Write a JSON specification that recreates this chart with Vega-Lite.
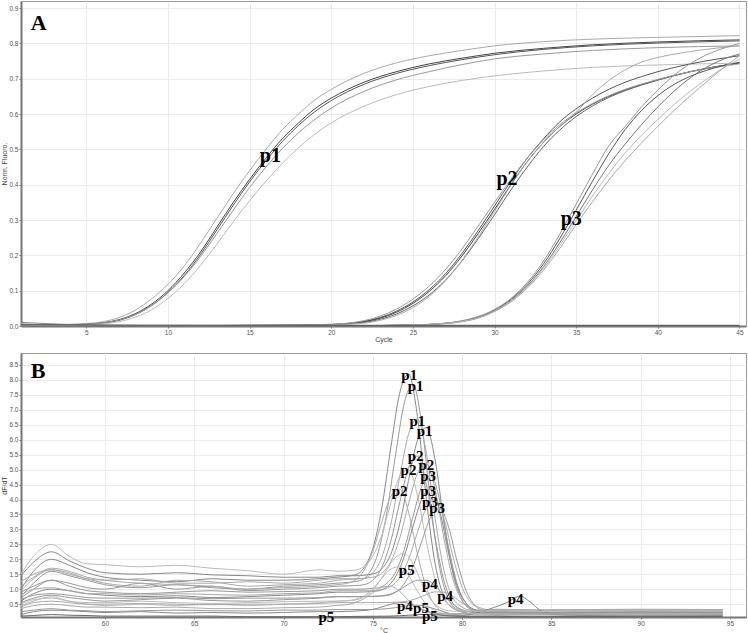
{
"$schema": "https://vega.github.io/schema/vega-lite/v6.json",
"padding": {"left": 0, "top": 0, "right": 3, "bottom": 0},
"background": "white",
"spacing": 9,
"config": {
  "view": {"stroke": "#999", "strokeWidth": 1},
  "axis": {"labelFontSize": 6.5, "labelColor": "#555", "labelFont": "Liberation Sans", "titleFont": "Liberation Sans", "titleFontSize": 7, "titleFontWeight": "normal", "titleColor": "#444", "tickColor": "#777", "tickSize": 2, "domainColor": "#777", "domainWidth": 2, "gridColor": "#ebebeb", "labelPadding": 1, "titlePadding": 1, "labelOverlap": false, "labelBound": false}
},
"resolve": {"scale": {"color": "independent"}},
"datasets": {
"amp": [
{"s":"1a","x":1,"y":0.006},{"s":"1a","x":3,"y":0.004},{"s":"1a","x":5,"y":0.007},{"s":"1a","x":6,"y":0.012},{"s":"1a","x":7,"y":0.024},{"s":"1a","x":8,"y":0.045},{"s":"1a","x":9,"y":0.077},{"s":"1a","x":10,"y":0.118},{"s":"1a","x":11,"y":0.17},{"s":"1a","x":12,"y":0.235},{"s":"1a","x":13,"y":0.305},{"s":"1a","x":14,"y":0.375},{"s":"1a","x":15,"y":0.44},{"s":"1a","x":16,"y":0.5},{"s":"1a","x":17,"y":0.555},{"s":"1a","x":18,"y":0.6},{"s":"1a","x":19,"y":0.64},{"s":"1a","x":20,"y":0.67},{"s":"1a","x":22,"y":0.715},{"s":"1a","x":24,"y":0.745},{"s":"1a","x":26,"y":0.765},{"s":"1a","x":28,"y":0.78},{"s":"1a","x":30,"y":0.793},{"s":"1a","x":33,"y":0.805},{"s":"1a","x":36,"y":0.812},{"s":"1a","x":40,"y":0.817},{"s":"1a","x":45,"y":0.822},
{"s":"1b","x":1,"y":0.004},{"s":"1b","x":3,"y":0.003},{"s":"1b","x":5,"y":0.005},{"s":"1b","x":6,"y":0.009},{"s":"1b","x":7,"y":0.018},{"s":"1b","x":8,"y":0.035},{"s":"1b","x":9,"y":0.062},{"s":"1b","x":10,"y":0.1},{"s":"1b","x":11,"y":0.15},{"s":"1b","x":12,"y":0.21},{"s":"1b","x":13,"y":0.28},{"s":"1b","x":14,"y":0.35},{"s":"1b","x":15,"y":0.415},{"s":"1b","x":16,"y":0.475},{"s":"1b","x":17,"y":0.53},{"s":"1b","x":18,"y":0.575},{"s":"1b","x":19,"y":0.615},{"s":"1b","x":20,"y":0.645},{"s":"1b","x":22,"y":0.69},{"s":"1b","x":24,"y":0.72},{"s":"1b","x":26,"y":0.742},{"s":"1b","x":28,"y":0.758},{"s":"1b","x":30,"y":0.772},{"s":"1b","x":33,"y":0.786},{"s":"1b","x":36,"y":0.796},{"s":"1b","x":40,"y":0.804},{"s":"1b","x":45,"y":0.81},
{"s":"1c","x":1,"y":0.004},{"s":"1c","x":3,"y":0.003},{"s":"1c","x":5,"y":0.004},{"s":"1c","x":6,"y":0.008},{"s":"1c","x":7,"y":0.016},{"s":"1c","x":8,"y":0.032},{"s":"1c","x":9,"y":0.058},{"s":"1c","x":10,"y":0.095},{"s":"1c","x":11,"y":0.143},{"s":"1c","x":12,"y":0.203},{"s":"1c","x":13,"y":0.272},{"s":"1c","x":14,"y":0.342},{"s":"1c","x":15,"y":0.408},{"s":"1c","x":16,"y":0.468},{"s":"1c","x":17,"y":0.522},{"s":"1c","x":18,"y":0.568},{"s":"1c","x":19,"y":0.607},{"s":"1c","x":20,"y":0.638},{"s":"1c","x":22,"y":0.684},{"s":"1c","x":24,"y":0.715},{"s":"1c","x":26,"y":0.737},{"s":"1c","x":28,"y":0.754},{"s":"1c","x":30,"y":0.768},{"s":"1c","x":33,"y":0.783},{"s":"1c","x":36,"y":0.793},{"s":"1c","x":40,"y":0.801},{"s":"1c","x":45,"y":0.807},
{"s":"1d","x":1,"y":0.005},{"s":"1d","x":3,"y":0.003},{"s":"1d","x":5,"y":0.005},{"s":"1d","x":6,"y":0.009},{"s":"1d","x":7,"y":0.017},{"s":"1d","x":8,"y":0.033},{"s":"1d","x":9,"y":0.058},{"s":"1d","x":10,"y":0.094},{"s":"1d","x":11,"y":0.14},{"s":"1d","x":12,"y":0.197},{"s":"1d","x":13,"y":0.262},{"s":"1d","x":14,"y":0.328},{"s":"1d","x":15,"y":0.392},{"s":"1d","x":16,"y":0.45},{"s":"1d","x":17,"y":0.502},{"s":"1d","x":18,"y":0.547},{"s":"1d","x":19,"y":0.585},{"s":"1d","x":20,"y":0.617},{"s":"1d","x":22,"y":0.664},{"s":"1d","x":24,"y":0.697},{"s":"1d","x":26,"y":0.72},{"s":"1d","x":28,"y":0.74},{"s":"1d","x":30,"y":0.756},{"s":"1d","x":33,"y":0.77},{"s":"1d","x":36,"y":0.78},{"s":"1d","x":40,"y":0.788},{"s":"1d","x":45,"y":0.793},
{"s":"1e","x":1,"y":0.003},{"s":"1e","x":3,"y":0.002},{"s":"1e","x":5,"y":0.003},{"s":"1e","x":6,"y":0.006},{"s":"1e","x":7,"y":0.012},{"s":"1e","x":8,"y":0.025},{"s":"1e","x":9,"y":0.046},{"s":"1e","x":10,"y":0.078},{"s":"1e","x":11,"y":0.12},{"s":"1e","x":12,"y":0.172},{"s":"1e","x":13,"y":0.232},{"s":"1e","x":14,"y":0.295},{"s":"1e","x":15,"y":0.355},{"s":"1e","x":16,"y":0.41},{"s":"1e","x":17,"y":0.46},{"s":"1e","x":18,"y":0.505},{"s":"1e","x":19,"y":0.543},{"s":"1e","x":20,"y":0.575},{"s":"1e","x":22,"y":0.622},{"s":"1e","x":24,"y":0.655},{"s":"1e","x":26,"y":0.678},{"s":"1e","x":28,"y":0.695},{"s":"1e","x":30,"y":0.708},{"s":"1e","x":33,"y":0.722},{"s":"1e","x":36,"y":0.732},{"s":"1e","x":40,"y":0.739},{"s":"1e","x":45,"y":0.744},
{"s":"2a","x":1,"y":0.002},{"s":"2a","x":10,"y":0.001},{"s":"2a","x":18,"y":0.002},{"s":"2a","x":20,"y":0.004},{"s":"2a","x":21,"y":0.007},{"s":"2a","x":22,"y":0.013},{"s":"2a","x":23,"y":0.024},{"s":"2a","x":24,"y":0.042},{"s":"2a","x":25,"y":0.068},{"s":"2a","x":26,"y":0.103},{"s":"2a","x":27,"y":0.148},{"s":"2a","x":28,"y":0.205},{"s":"2a","x":29,"y":0.27},{"s":"2a","x":30,"y":0.34},{"s":"2a","x":31,"y":0.41},{"s":"2a","x":32,"y":0.475},{"s":"2a","x":33,"y":0.53},{"s":"2a","x":34,"y":0.578},{"s":"2a","x":35,"y":0.615},{"s":"2a","x":36,"y":0.645},{"s":"2a","x":37,"y":0.67},{"s":"2a","x":38,"y":0.69},{"s":"2a","x":39,"y":0.706},{"s":"2a","x":40,"y":0.72},{"s":"2a","x":42,"y":0.742},{"s":"2a","x":45,"y":0.765},
{"s":"2b","x":1,"y":0.002},{"s":"2b","x":10,"y":0.001},{"s":"2b","x":18,"y":0.002},{"s":"2b","x":20,"y":0.004},{"s":"2b","x":21,"y":0.007},{"s":"2b","x":22,"y":0.012},{"s":"2b","x":23,"y":0.022},{"s":"2b","x":24,"y":0.039},{"s":"2b","x":25,"y":0.064},{"s":"2b","x":26,"y":0.098},{"s":"2b","x":27,"y":0.142},{"s":"2b","x":28,"y":0.198},{"s":"2b","x":29,"y":0.262},{"s":"2b","x":30,"y":0.33},{"s":"2b","x":31,"y":0.4},{"s":"2b","x":32,"y":0.465},{"s":"2b","x":33,"y":0.52},{"s":"2b","x":34,"y":0.565},{"s":"2b","x":35,"y":0.6},{"s":"2b","x":36,"y":0.628},{"s":"2b","x":37,"y":0.65},{"s":"2b","x":38,"y":0.668},{"s":"2b","x":39,"y":0.683},{"s":"2b","x":40,"y":0.697},{"s":"2b","x":42,"y":0.72},{"s":"2b","x":45,"y":0.745},
{"s":"2c","x":1,"y":0.001},{"s":"2c","x":10,"y":0.001},{"s":"2c","x":18,"y":0.002},{"s":"2c","x":20,"y":0.003},{"s":"2c","x":21,"y":0.006},{"s":"2c","x":22,"y":0.01},{"s":"2c","x":23,"y":0.019},{"s":"2c","x":24,"y":0.034},{"s":"2c","x":25,"y":0.057},{"s":"2c","x":26,"y":0.088},{"s":"2c","x":27,"y":0.13},{"s":"2c","x":28,"y":0.184},{"s":"2c","x":29,"y":0.247},{"s":"2c","x":30,"y":0.315},{"s":"2c","x":31,"y":0.385},{"s":"2c","x":32,"y":0.45},{"s":"2c","x":33,"y":0.508},{"s":"2c","x":34,"y":0.555},{"s":"2c","x":35,"y":0.593},{"s":"2c","x":36,"y":0.623},{"s":"2c","x":37,"y":0.647},{"s":"2c","x":38,"y":0.666},{"s":"2c","x":39,"y":0.682},{"s":"2c","x":40,"y":0.696},{"s":"2c","x":42,"y":0.72},{"s":"2c","x":45,"y":0.745},
{"s":"2d","x":1,"y":0.001},{"s":"2d","x":10,"y":0.001},{"s":"2d","x":18,"y":0.001},{"s":"2d","x":20,"y":0.003},{"s":"2d","x":21,"y":0.005},{"s":"2d","x":22,"y":0.008},{"s":"2d","x":23,"y":0.016},{"s":"2d","x":24,"y":0.03},{"s":"2d","x":25,"y":0.052},{"s":"2d","x":26,"y":0.084},{"s":"2d","x":27,"y":0.128},{"s":"2d","x":28,"y":0.185},{"s":"2d","x":29,"y":0.252},{"s":"2d","x":30,"y":0.325},{"s":"2d","x":31,"y":0.398},{"s":"2d","x":32,"y":0.465},{"s":"2d","x":33,"y":0.52},{"s":"2d","x":34,"y":0.565},{"s":"2d","x":35,"y":0.605},{"s":"2d","x":36,"y":0.655},{"s":"2d","x":37,"y":0.695},{"s":"2d","x":38,"y":0.725},{"s":"2d","x":39,"y":0.747},{"s":"2d","x":40,"y":0.76},{"s":"2d","x":42,"y":0.777},{"s":"2d","x":45,"y":0.793},
{"s":"2e","x":1,"y":0.002},{"s":"2e","x":10,"y":0.001},{"s":"2e","x":18,"y":0.003},{"s":"2e","x":20,"y":0.005},{"s":"2e","x":21,"y":0.008},{"s":"2e","x":22,"y":0.015},{"s":"2e","x":23,"y":0.028},{"s":"2e","x":24,"y":0.048},{"s":"2e","x":25,"y":0.076},{"s":"2e","x":26,"y":0.113},{"s":"2e","x":27,"y":0.16},{"s":"2e","x":28,"y":0.218},{"s":"2e","x":29,"y":0.283},{"s":"2e","x":30,"y":0.35},{"s":"2e","x":31,"y":0.415},{"s":"2e","x":32,"y":0.475},{"s":"2e","x":33,"y":0.527},{"s":"2e","x":34,"y":0.57},{"s":"2e","x":35,"y":0.603},{"s":"2e","x":36,"y":0.63},{"s":"2e","x":37,"y":0.652},{"s":"2e","x":38,"y":0.67},{"s":"2e","x":39,"y":0.685},{"s":"2e","x":40,"y":0.698},{"s":"2e","x":42,"y":0.72},{"s":"2e","x":45,"y":0.742},
{"s":"3a","x":1,"y":0.001},{"s":"3a","x":15,"y":0.0},{"s":"3a","x":22,"y":0.001},{"s":"3a","x":25,"y":0.003},{"s":"3a","x":27,"y":0.008},{"s":"3a","x":28,"y":0.014},{"s":"3a","x":29,"y":0.025},{"s":"3a","x":30,"y":0.045},{"s":"3a","x":31,"y":0.075},{"s":"3a","x":32,"y":0.118},{"s":"3a","x":33,"y":0.176},{"s":"3a","x":34,"y":0.248},{"s":"3a","x":35,"y":0.328},{"s":"3a","x":36,"y":0.41},{"s":"3a","x":37,"y":0.488},{"s":"3a","x":38,"y":0.556},{"s":"3a","x":39,"y":0.61},{"s":"3a","x":40,"y":0.652},{"s":"3a","x":41,"y":0.684},{"s":"3a","x":42,"y":0.707},{"s":"3a","x":43,"y":0.724},{"s":"3a","x":44,"y":0.737},{"s":"3a","x":45,"y":0.746},
{"s":"3b","x":1,"y":0.001},{"s":"3b","x":15,"y":0.0},{"s":"3b","x":22,"y":0.001},{"s":"3b","x":25,"y":0.003},{"s":"3b","x":27,"y":0.008},{"s":"3b","x":28,"y":0.015},{"s":"3b","x":29,"y":0.027},{"s":"3b","x":30,"y":0.047},{"s":"3b","x":31,"y":0.078},{"s":"3b","x":32,"y":0.123},{"s":"3b","x":33,"y":0.184},{"s":"3b","x":34,"y":0.26},{"s":"3b","x":35,"y":0.345},{"s":"3b","x":36,"y":0.43},{"s":"3b","x":37,"y":0.51},{"s":"3b","x":38,"y":0.565},{"s":"3b","x":39,"y":0.62},{"s":"3b","x":40,"y":0.668},{"s":"3b","x":41,"y":0.71},{"s":"3b","x":42,"y":0.743},{"s":"3b","x":43,"y":0.768},{"s":"3b","x":44,"y":0.786},{"s":"3b","x":45,"y":0.8},
{"s":"3c","x":1,"y":0.001},{"s":"3c","x":15,"y":0.0},{"s":"3c","x":22,"y":0.001},{"s":"3c","x":25,"y":0.003},{"s":"3c","x":27,"y":0.007},{"s":"3c","x":28,"y":0.013},{"s":"3c","x":29,"y":0.024},{"s":"3c","x":30,"y":0.043},{"s":"3c","x":31,"y":0.072},{"s":"3c","x":32,"y":0.113},{"s":"3c","x":33,"y":0.168},{"s":"3c","x":34,"y":0.236},{"s":"3c","x":35,"y":0.31},{"s":"3c","x":36,"y":0.385},{"s":"3c","x":37,"y":0.455},{"s":"3c","x":38,"y":0.515},{"s":"3c","x":39,"y":0.57},{"s":"3c","x":40,"y":0.62},{"s":"3c","x":41,"y":0.665},{"s":"3c","x":42,"y":0.703},{"s":"3c","x":43,"y":0.733},{"s":"3c","x":44,"y":0.755},{"s":"3c","x":45,"y":0.77},
{"s":"3d","x":1,"y":0.001},{"s":"3d","x":15,"y":0.0},{"s":"3d","x":22,"y":0.001},{"s":"3d","x":25,"y":0.003},{"s":"3d","x":27,"y":0.007},{"s":"3d","x":28,"y":0.013},{"s":"3d","x":29,"y":0.023},{"s":"3d","x":30,"y":0.042},{"s":"3d","x":31,"y":0.07},{"s":"3d","x":32,"y":0.11},{"s":"3d","x":33,"y":0.163},{"s":"3d","x":34,"y":0.228},{"s":"3d","x":35,"y":0.298},{"s":"3d","x":36,"y":0.368},{"s":"3d","x":37,"y":0.432},{"s":"3d","x":38,"y":0.49},{"s":"3d","x":39,"y":0.54},{"s":"3d","x":40,"y":0.585},{"s":"3d","x":41,"y":0.627},{"s":"3d","x":42,"y":0.665},{"s":"3d","x":43,"y":0.699},{"s":"3d","x":44,"y":0.73},{"s":"3d","x":45,"y":0.755},
{"s":"3e","x":1,"y":0.001},{"s":"3e","x":15,"y":0.0},{"s":"3e","x":22,"y":0.001},{"s":"3e","x":25,"y":0.003},{"s":"3e","x":27,"y":0.007},{"s":"3e","x":28,"y":0.012},{"s":"3e","x":29,"y":0.022},{"s":"3e","x":30,"y":0.041},{"s":"3e","x":31,"y":0.068},{"s":"3e","x":32,"y":0.107},{"s":"3e","x":33,"y":0.158},{"s":"3e","x":34,"y":0.22},{"s":"3e","x":35,"y":0.287},{"s":"3e","x":36,"y":0.352},{"s":"3e","x":37,"y":0.413},{"s":"3e","x":38,"y":0.468},{"s":"3e","x":39,"y":0.518},{"s":"3e","x":40,"y":0.565},{"s":"3e","x":41,"y":0.61},{"s":"3e","x":42,"y":0.652},{"s":"3e","x":43,"y":0.692},{"s":"3e","x":44,"y":0.73},{"s":"3e","x":45,"y":0.765},
{"s":"n1","x":1,"y":0.01},{"s":"n1","x":2,"y":0.008},{"s":"n1","x":4,"y":0.004},{"s":"n1","x":6,"y":0.002},{"s":"n1","x":9,"y":0.001},{"s":"n1","x":45,"y":0.001},
{"s":"n2","x":1,"y":0.003},{"s":"n2","x":20,"y":0.002},{"s":"n2","x":45,"y":0.002}
],
"ampLab": [
{"t":"A","x":2.09,"y":0.858},
{"t":"p1","x":16.27,"y":0.48},
{"t":"p2","x":30.76,"y":0.416},
{"t":"p3","x":34.7,"y":0.303}
],
"melt": [
{"m":"m1","t":55.3,"v":1.0},{"m":"m1","t":56,"v":1.6},{"m":"m1","t":57,"v":2.0},{"m":"m1","t":58,"v":1.8},{"m":"m1","t":59,"v":1.55},{"m":"m1","t":60,"v":1.4},{"m":"m1","t":62,"v":1.3},{"m":"m1","t":64,"v":1.25},{"m":"m1","t":66,"v":1.35},{"m":"m1","t":68,"v":1.3},{"m":"m1","t":70,"v":1.3},{"m":"m1","t":72,"v":1.35},{"m":"m1","t":73,"v":1.4},{"m":"m1","t":74,"v":1.48},{"m":"m1","t":74.5,"v":1.71},{"m":"m1","t":75,"v":2.36},{"m":"m1","t":75.5,"v":3.7},{"m":"m1","t":76,"v":5.7},{"m":"m1","t":76.5,"v":7.54},{"m":"m1","t":77,"v":8.2},{"m":"m1","t":77.5,"v":6.78},{"m":"m1","t":78,"v":4.01},{"m":"m1","t":78.5,"v":1.82},{"m":"m1","t":79,"v":0.73},{"m":"m1","t":79.5,"v":0.36},{"m":"m1","t":80,"v":0.26},{"m":"m1","t":81,"v":0.25},{"m":"m1","t":82,"v":0.24},{"m":"m1","t":84,"v":0.26},{"m":"m1","t":87,"v":0.24},{"m":"m1","t":90,"v":0.25},{"m":"m1","t":94.6,"v":0.24},
{"m":"m2","t":55.3,"v":0.75},{"m":"m2","t":56,"v":1.2},{"m":"m2","t":57,"v":1.6},{"m":"m2","t":58,"v":1.45},{"m":"m2","t":59,"v":1.3},{"m":"m2","t":60,"v":1.15},{"m":"m2","t":62,"v":1.05},{"m":"m2","t":64,"v":1.15},{"m":"m2","t":66,"v":1.05},{"m":"m2","t":68,"v":1.0},{"m":"m2","t":70,"v":1.1},{"m":"m2","t":72,"v":1.15},{"m":"m2","t":73,"v":1.2},{"m":"m2","t":74.25,"v":1.28},{"m":"m2","t":74.75,"v":1.5},{"m":"m2","t":75.25,"v":2.13},{"m":"m2","t":75.75,"v":3.44},{"m":"m2","t":76.25,"v":5.39},{"m":"m2","t":76.75,"v":7.19},{"m":"m2","t":77.25,"v":7.85},{"m":"m2","t":77.75,"v":6.48},{"m":"m2","t":78.25,"v":3.81},{"m":"m2","t":78.75,"v":1.69},{"m":"m2","t":79.25,"v":0.65},{"m":"m2","t":79.75,"v":0.31},{"m":"m2","t":80.25,"v":0.2},{"m":"m2","t":81,"v":0.2},{"m":"m2","t":82,"v":0.21},{"m":"m2","t":84,"v":0.19},{"m":"m2","t":87,"v":0.2},{"m":"m2","t":90,"v":0.21},{"m":"m2","t":94.6,"v":0.2},
{"m":"m3","t":55.3,"v":1.25},{"m":"m3","t":56,"v":1.5},{"m":"m3","t":57,"v":1.65},{"m":"m3","t":58,"v":1.5},{"m":"m3","t":59,"v":1.35},{"m":"m3","t":60,"v":1.2},{"m":"m3","t":62,"v":1.1},{"m":"m3","t":64,"v":1.3},{"m":"m3","t":66,"v":1.25},{"m":"m3","t":68,"v":1.1},{"m":"m3","t":70,"v":1.15},{"m":"m3","t":72,"v":1.2},{"m":"m3","t":73,"v":1.3},{"m":"m3","t":74.5,"v":1.36},{"m":"m3","t":75,"v":1.55},{"m":"m3","t":75.5,"v":2.06},{"m":"m3","t":76,"v":3.14},{"m":"m3","t":76.5,"v":4.73},{"m":"m3","t":77,"v":6.18},{"m":"m3","t":77.5,"v":6.7},{"m":"m3","t":78,"v":5.55},{"m":"m3","t":78.5,"v":3.34},{"m":"m3","t":79,"v":1.58},{"m":"m3","t":79.5,"v":0.7},{"m":"m3","t":80,"v":0.4},{"m":"m3","t":80.5,"v":0.3},{"m":"m3","t":82,"v":0.31},{"m":"m3","t":84,"v":0.29},{"m":"m3","t":87,"v":0.3},{"m":"m3","t":90,"v":0.31},{"m":"m3","t":94.6,"v":0.3},
{"m":"m4","t":55.3,"v":1.45},{"m":"m4","t":56,"v":1.9},{"m":"m4","t":57,"v":2.25},{"m":"m4","t":58,"v":1.95},{"m":"m4","t":59,"v":1.7},{"m":"m4","t":60,"v":1.55},{"m":"m4","t":62,"v":1.5},{"m":"m4","t":64,"v":1.55},{"m":"m4","t":66,"v":1.48},{"m":"m4","t":68,"v":1.45},{"m":"m4","t":70,"v":1.4},{"m":"m4","t":72,"v":1.4},{"m":"m4","t":73,"v":1.45},{"m":"m4","t":74,"v":1.45},{"m":"m4","t":75,"v":1.51},{"m":"m4","t":75.5,"v":1.68},{"m":"m4","t":76,"v":2.16},{"m":"m4","t":76.5,"v":3.16},{"m":"m4","t":77,"v":4.64},{"m":"m4","t":77.5,"v":5.97},{"m":"m4","t":78,"v":6.4},{"m":"m4","t":78.5,"v":5.29},{"m":"m4","t":79,"v":3.18},{"m":"m4","t":79.5,"v":1.5},{"m":"m4","t":80,"v":0.63},{"m":"m4","t":80.5,"v":0.32},{"m":"m4","t":81,"v":0.22},{"m":"m4","t":82,"v":0.23},{"m":"m4","t":84,"v":0.21},{"m":"m4","t":87,"v":0.22},{"m":"m4","t":90,"v":0.23},{"m":"m4","t":94.6,"v":0.22},
{"m":"m5","t":55.3,"v":0.7},{"m":"m5","t":56,"v":1.0},{"m":"m5","t":57,"v":1.3},{"m":"m5","t":58,"v":1.2},{"m":"m5","t":59,"v":1.05},{"m":"m5","t":60,"v":1.0},{"m":"m5","t":62,"v":1.2},{"m":"m5","t":64,"v":1.0},{"m":"m5","t":66,"v":1.1},{"m":"m5","t":68,"v":0.95},{"m":"m5","t":70,"v":1.0},{"m":"m5","t":72,"v":1.05},{"m":"m5","t":73,"v":1.1},{"m":"m5","t":74,"v":1.12},{"m":"m5","t":74.5,"v":1.15},{"m":"m5","t":75,"v":1.3},{"m":"m5","t":75.5,"v":1.72},{"m":"m5","t":76,"v":2.59},{"m":"m5","t":76.5,"v":3.88},{"m":"m5","t":77,"v":5.05},{"m":"m5","t":77.5,"v":5.45},{"m":"m5","t":78,"v":4.5},{"m":"m5","t":78.5,"v":2.69},{"m":"m5","t":79,"v":1.25},{"m":"m5","t":79.5,"v":0.52},{"m":"m5","t":80,"v":0.27},{"m":"m5","t":80.5,"v":0.18},{"m":"m5","t":82,"v":0.17},{"m":"m5","t":84,"v":0.19},{"m":"m5","t":87,"v":0.18},{"m":"m5","t":90,"v":0.17},{"m":"m5","t":94.6,"v":0.18},
{"m":"m6","t":55.3,"v":0.95},{"m":"m6","t":56,"v":1.35},{"m":"m6","t":57,"v":1.65},{"m":"m6","t":58,"v":1.55},{"m":"m6","t":59,"v":1.35},{"m":"m6","t":60,"v":1.3},{"m":"m6","t":62,"v":1.35},{"m":"m6","t":64,"v":1.2},{"m":"m6","t":66,"v":1.2},{"m":"m6","t":68,"v":1.25},{"m":"m6","t":70,"v":1.2},{"m":"m6","t":72,"v":1.3},{"m":"m6","t":73,"v":1.35},{"m":"m6","t":74,"v":1.35},{"m":"m6","t":75,"v":1.4},{"m":"m6","t":75.5,"v":1.53},{"m":"m6","t":76,"v":1.91},{"m":"m6","t":76.5,"v":2.69},{"m":"m6","t":77,"v":3.85},{"m":"m6","t":77.5,"v":4.87},{"m":"m6","t":78,"v":5.2},{"m":"m6","t":78.5,"v":4.31},{"m":"m6","t":79,"v":2.65},{"m":"m6","t":79.5,"v":1.31},{"m":"m6","t":80,"v":0.62},{"m":"m6","t":80.5,"v":0.36},{"m":"m6","t":81,"v":0.28},{"m":"m6","t":82,"v":0.29},{"m":"m6","t":84,"v":0.27},{"m":"m6","t":87,"v":0.28},{"m":"m6","t":90,"v":0.29},{"m":"m6","t":94.6,"v":0.28},
{"m":"m7","t":55.3,"v":1.5},{"m":"m7","t":56,"v":2.1},{"m":"m7","t":57,"v":2.5},{"m":"m7","t":58,"v":2.1},{"m":"m7","t":59,"v":1.85},{"m":"m7","t":60,"v":1.82},{"m":"m7","t":62,"v":1.75},{"m":"m7","t":64,"v":1.8},{"m":"m7","t":66,"v":1.7},{"m":"m7","t":68,"v":1.62},{"m":"m7","t":70,"v":1.5},{"m":"m7","t":72,"v":1.65},{"m":"m7","t":73,"v":1.6},{"m":"m7","t":74,"v":1.64},{"m":"m7","t":74.5,"v":1.76},{"m":"m7","t":75,"v":2.1},{"m":"m7","t":75.5,"v":2.81},{"m":"m7","t":76,"v":3.86},{"m":"m7","t":76.5,"v":4.76},{"m":"m7","t":77,"v":5.0},{"m":"m7","t":77.5,"v":4.15},{"m":"m7","t":78,"v":2.59},{"m":"m7","t":78.5,"v":1.33},{"m":"m7","t":79,"v":0.66},{"m":"m7","t":79.5,"v":0.4},{"m":"m7","t":80,"v":0.3},{"m":"m7","t":81,"v":0.3},{"m":"m7","t":82,"v":0.32},{"m":"m7","t":84,"v":0.3},{"m":"m7","t":87,"v":0.31},{"m":"m7","t":90,"v":0.3},{"m":"m7","t":94.6,"v":0.31},
{"m":"m8","t":55.3,"v":1.1},{"m":"m8","t":56,"v":1.4},{"m":"m8","t":57,"v":1.7},{"m":"m8","t":58,"v":1.6},{"m":"m8","t":59,"v":1.4},{"m":"m8","t":60,"v":1.3},{"m":"m8","t":62,"v":1.2},{"m":"m8","t":64,"v":1.15},{"m":"m8","t":66,"v":1.1},{"m":"m8","t":68,"v":1.0},{"m":"m8","t":70,"v":1.05},{"m":"m8","t":72,"v":1.1},{"m":"m8","t":73,"v":1.15},{"m":"m8","t":73.5,"v":1.19},{"m":"m8","t":74,"v":1.3},{"m":"m8","t":74.5,"v":1.62},{"m":"m8","t":75,"v":2.27},{"m":"m8","t":75.5,"v":3.24},{"m":"m8","t":76,"v":4.09},{"m":"m8","t":76.5,"v":4.35},{"m":"m8","t":77,"v":3.59},{"m":"m8","t":77.5,"v":2.18},{"m":"m8","t":78,"v":1.05},{"m":"m8","t":78.5,"v":0.45},{"m":"m8","t":79,"v":0.23},{"m":"m8","t":79.5,"v":0.15},{"m":"m8","t":80.5,"v":0.15},{"m":"m8","t":82,"v":0.14},{"m":"m8","t":84,"v":0.16},{"m":"m8","t":87,"v":0.15},{"m":"m8","t":90,"v":0.14},{"m":"m8","t":94.6,"v":0.15},
{"m":"m9","t":55.3,"v":0.9},{"m":"m9","t":56,"v":1.1},{"m":"m9","t":57,"v":1.3},{"m":"m9","t":58,"v":1.1},{"m":"m9","t":59,"v":0.95},{"m":"m9","t":60,"v":0.9},{"m":"m9","t":62,"v":0.85},{"m":"m9","t":64,"v":0.9},{"m":"m9","t":66,"v":0.95},{"m":"m9","t":68,"v":0.9},{"m":"m9","t":70,"v":0.92},{"m":"m9","t":72,"v":0.95},{"m":"m9","t":73,"v":1.0},{"m":"m9","t":74,"v":1.0},{"m":"m9","t":75.25,"v":1.04},{"m":"m9","t":75.75,"v":1.18},{"m":"m9","t":76.25,"v":1.54},{"m":"m9","t":76.75,"v":2.3},{"m":"m9","t":77.25,"v":3.43},{"m":"m9","t":77.75,"v":4.45},{"m":"m9","t":78.25,"v":4.8},{"m":"m9","t":78.75,"v":3.97},{"m":"m9","t":79.25,"v":2.39},{"m":"m9","t":79.75,"v":1.13},{"m":"m9","t":80.25,"v":0.5},{"m":"m9","t":80.75,"v":0.27},{"m":"m9","t":81.25,"v":0.2},{"m":"m9","t":82,"v":0.21},{"m":"m9","t":84,"v":0.19},{"m":"m9","t":87,"v":0.2},{"m":"m9","t":90,"v":0.21},{"m":"m9","t":94.6,"v":0.2},
{"m":"m10","t":55.3,"v":0.6},{"m":"m10","t":56,"v":0.85},{"m":"m10","t":57,"v":1.0},{"m":"m10","t":58,"v":0.95},{"m":"m10","t":59,"v":0.85},{"m":"m10","t":60,"v":0.8},{"m":"m10","t":62,"v":0.75},{"m":"m10","t":64,"v":0.78},{"m":"m10","t":66,"v":0.72},{"m":"m10","t":68,"v":0.75},{"m":"m10","t":70,"v":0.8},{"m":"m10","t":72,"v":0.85},{"m":"m10","t":73,"v":0.9},{"m":"m10","t":74,"v":0.9},{"m":"m10","t":75.25,"v":0.94},{"m":"m10","t":75.75,"v":1.06},{"m":"m10","t":76.25,"v":1.39},{"m":"m10","t":76.75,"v":2.07},{"m":"m10","t":77.25,"v":3.09},{"m":"m10","t":77.75,"v":4.02},{"m":"m10","t":78.25,"v":4.35},{"m":"m10","t":78.75,"v":3.61},{"m":"m10","t":79.25,"v":2.19},{"m":"m10","t":79.75,"v":1.07},{"m":"m10","t":80.25,"v":0.51},{"m":"m10","t":80.75,"v":0.31},{"m":"m10","t":81.25,"v":0.25},{"m":"m10","t":82,"v":0.26},{"m":"m10","t":84,"v":0.24},{"m":"m10","t":87,"v":0.25},{"m":"m10","t":90,"v":0.26},{"m":"m10","t":94.6,"v":0.25},
{"m":"m11","t":55.3,"v":0.8},{"m":"m11","t":56,"v":1.0},{"m":"m11","t":57,"v":1.05},{"m":"m11","t":58,"v":0.95},{"m":"m11","t":59,"v":0.85},{"m":"m11","t":60,"v":0.85},{"m":"m11","t":62,"v":0.8},{"m":"m11","t":64,"v":0.85},{"m":"m11","t":66,"v":0.82},{"m":"m11","t":68,"v":0.8},{"m":"m11","t":70,"v":0.85},{"m":"m11","t":72,"v":0.88},{"m":"m11","t":73,"v":0.95},{"m":"m11","t":74,"v":0.95},{"m":"m11","t":75,"v":0.95},{"m":"m11","t":75.5,"v":0.99},{"m":"m11","t":76,"v":1.09},{"m":"m11","t":76.5,"v":1.38},{"m":"m11","t":77,"v":1.99},{"m":"m11","t":77.5,"v":2.9},{"m":"m11","t":78,"v":3.72},{"m":"m11","t":78.5,"v":4.0},{"m":"m11","t":79,"v":3.34},{"m":"m11","t":79.5,"v":2.07},{"m":"m11","t":80,"v":1.07},{"m":"m11","t":80.5,"v":0.55},{"m":"m11","t":81,"v":0.38},{"m":"m11","t":81.5,"v":0.32},{"m":"m11","t":82,"v":0.33},{"m":"m11","t":84,"v":0.31},{"m":"m11","t":87,"v":0.32},{"m":"m11","t":90,"v":0.33},{"m":"m11","t":94.6,"v":0.32},
{"m":"m12","t":55.3,"v":0.55},{"m":"m12","t":56,"v":0.7},{"m":"m12","t":57,"v":0.8},{"m":"m12","t":58,"v":0.72},{"m":"m12","t":59,"v":0.65},{"m":"m12","t":60,"v":0.6},{"m":"m12","t":62,"v":0.65},{"m":"m12","t":64,"v":0.7},{"m":"m12","t":66,"v":0.62},{"m":"m12","t":68,"v":0.6},{"m":"m12","t":70,"v":0.65},{"m":"m12","t":72,"v":0.7},{"m":"m12","t":73,"v":0.75},{"m":"m12","t":74,"v":0.75},{"m":"m12","t":75,"v":0.76},{"m":"m12","t":75.75,"v":0.78},{"m":"m12","t":76.25,"v":0.89},{"m":"m12","t":76.75,"v":1.17},{"m":"m12","t":77.25,"v":1.75},{"m":"m12","t":77.75,"v":2.62},{"m":"m12","t":78.25,"v":3.42},{"m":"m12","t":78.75,"v":3.7},{"m":"m12","t":79.25,"v":3.07},{"m":"m12","t":79.75,"v":1.87},{"m":"m12","t":80.25,"v":0.91},{"m":"m12","t":80.75,"v":0.44},{"m":"m12","t":81.25,"v":0.27},{"m":"m12","t":81.75,"v":0.22},{"m":"m12","t":84,"v":0.23},{"m":"m12","t":87,"v":0.22},{"m":"m12","t":90,"v":0.21},{"m":"m12","t":94.6,"v":0.22},
{"m":"m13","t":55.3,"v":0.45},{"m":"m13","t":56,"v":0.6},{"m":"m13","t":57,"v":0.75},{"m":"m13","t":58,"v":0.6},{"m":"m13","t":59,"v":0.5},{"m":"m13","t":60,"v":0.45},{"m":"m13","t":62,"v":0.5},{"m":"m13","t":64,"v":0.45},{"m":"m13","t":66,"v":0.5},{"m":"m13","t":68,"v":0.45},{"m":"m13","t":70,"v":0.5},{"m":"m13","t":72,"v":0.55},{"m":"m13","t":73,"v":0.6},{"m":"m13","t":73.5,"v":0.61},{"m":"m13","t":74,"v":0.66},{"m":"m13","t":74.5,"v":0.77},{"m":"m13","t":75,"v":1.01},{"m":"m13","t":75.5,"v":1.36},{"m":"m13","t":76,"v":1.67},{"m":"m13","t":76.5,"v":1.75},{"m":"m13","t":77,"v":1.46},{"m":"m13","t":77.5,"v":0.93},{"m":"m13","t":78,"v":0.5},{"m":"m13","t":78.5,"v":0.28},{"m":"m13","t":79,"v":0.18},{"m":"m13","t":79.5,"v":0.15},{"m":"m13","t":80.5,"v":0.15},{"m":"m13","t":82,"v":0.16},{"m":"m13","t":84,"v":0.14},{"m":"m13","t":87,"v":0.15},{"m":"m13","t":90,"v":0.16},{"m":"m13","t":94.6,"v":0.15},
{"m":"m14","t":55.3,"v":0.65},{"m":"m14","t":56,"v":0.8},{"m":"m14","t":57,"v":0.85},{"m":"m14","t":58,"v":0.8},{"m":"m14","t":59,"v":0.72},{"m":"m14","t":60,"v":0.7},{"m":"m14","t":62,"v":0.7},{"m":"m14","t":64,"v":0.72},{"m":"m14","t":66,"v":0.68},{"m":"m14","t":68,"v":0.7},{"m":"m14","t":70,"v":0.7},{"m":"m14","t":72,"v":0.72},{"m":"m14","t":73,"v":0.75},{"m":"m14","t":74,"v":0.75},{"m":"m14","t":75,"v":0.76},{"m":"m14","t":75.5,"v":0.78},{"m":"m14","t":76,"v":0.84},{"m":"m14","t":76.5,"v":0.97},{"m":"m14","t":77,"v":1.17},{"m":"m14","t":77.5,"v":1.3},{"m":"m14","t":78,"v":1.3},{"m":"m14","t":78.5,"v":1.1},{"m":"m14","t":79,"v":0.77},{"m":"m14","t":79.5,"v":0.49},{"m":"m14","t":80,"v":0.31},{"m":"m14","t":80.5,"v":0.23},{"m":"m14","t":81,"v":0.2},{"m":"m14","t":82,"v":0.21},{"m":"m14","t":84,"v":0.19},{"m":"m14","t":87,"v":0.2},{"m":"m14","t":90,"v":0.21},{"m":"m14","t":94.6,"v":0.2},
{"m":"m15","t":55.3,"v":0.4},{"m":"m15","t":56,"v":0.55},{"m":"m15","t":57,"v":0.6},{"m":"m15","t":58,"v":0.55},{"m":"m15","t":59,"v":0.5},{"m":"m15","t":60,"v":0.5},{"m":"m15","t":62,"v":0.52},{"m":"m15","t":64,"v":0.5},{"m":"m15","t":66,"v":0.48},{"m":"m15","t":68,"v":0.5},{"m":"m15","t":70,"v":0.5},{"m":"m15","t":72,"v":0.52},{"m":"m15","t":73,"v":0.55},{"m":"m15","t":74,"v":0.55},{"m":"m15","t":75,"v":0.55},{"m":"m15","t":76,"v":0.56},{"m":"m15","t":76.5,"v":0.57},{"m":"m15","t":77,"v":0.61},{"m":"m15","t":77.5,"v":0.7},{"m":"m15","t":78,"v":0.82},{"m":"m15","t":78.5,"v":0.91},{"m":"m15","t":79,"v":0.9},{"m":"m15","t":79.5,"v":0.76},{"m":"m15","t":80,"v":0.54},{"m":"m15","t":80.5,"v":0.35},{"m":"m15","t":81,"v":0.23},{"m":"m15","t":81.5,"v":0.17},{"m":"m15","t":82,"v":0.15},{"m":"m15","t":84,"v":0.16},{"m":"m15","t":87,"v":0.15},{"m":"m15","t":90,"v":0.14},{"m":"m15","t":94.6,"v":0.15},
{"m":"m16","t":55.3,"v":0.15},{"m":"m16","t":56,"v":0.25},{"m":"m16","t":57,"v":0.3},{"m":"m16","t":58,"v":0.28},{"m":"m16","t":59,"v":0.25},{"m":"m16","t":60,"v":0.22},{"m":"m16","t":62,"v":0.25},{"m":"m16","t":64,"v":0.2},{"m":"m16","t":66,"v":0.22},{"m":"m16","t":68,"v":0.2},{"m":"m16","t":70,"v":0.22},{"m":"m16","t":72,"v":0.25},{"m":"m16","t":73,"v":0.25},{"m":"m16","t":74.75,"v":0.3},{"m":"m16","t":75.25,"v":0.36},{"m":"m16","t":75.75,"v":0.45},{"m":"m16","t":76.25,"v":0.53},{"m":"m16","t":76.75,"v":0.55},{"m":"m16","t":77.25,"v":0.47},{"m":"m16","t":77.75,"v":0.33},{"m":"m16","t":78.25,"v":0.22},{"m":"m16","t":78.75,"v":0.15},{"m":"m16","t":79.25,"v":0.13},{"m":"m16","t":80,"v":0.12},{"m":"m16","t":80.75,"v":0.2},{"m":"m16","t":81.5,"v":0.33},{"m":"m16","t":82.5,"v":0.55},{"m":"m16","t":83.25,"v":0.77},{"m":"m16","t":83.75,"v":0.6},{"m":"m16","t":84.5,"v":0.25},{"m":"m16","t":85.5,"v":0.14},{"m":"m16","t":87,"v":0.12},{"m":"m16","t":90,"v":0.11},{"m":"m16","t":94.6,"v":0.12},
{"m":"m17","t":55.3,"v":0.25},{"m":"m17","t":56,"v":0.3},{"m":"m17","t":57,"v":0.35},{"m":"m17","t":58,"v":0.3},{"m":"m17","t":59,"v":0.28},{"m":"m17","t":60,"v":0.25},{"m":"m17","t":62,"v":0.28},{"m":"m17","t":64,"v":0.3},{"m":"m17","t":66,"v":0.28},{"m":"m17","t":68,"v":0.27},{"m":"m17","t":70,"v":0.3},{"m":"m17","t":72,"v":0.3},{"m":"m17","t":73,"v":0.32},{"m":"m17","t":74.75,"v":0.32},{"m":"m17","t":75.75,"v":0.345},{"m":"m17","t":76.25,"v":0.38},{"m":"m17","t":76.75,"v":0.43},{"m":"m17","t":77.25,"v":0.46},{"m":"m17","t":77.75,"v":0.45},{"m":"m17","t":78.25,"v":0.38},{"m":"m17","t":78.75,"v":0.29},{"m":"m17","t":79.25,"v":0.2},{"m":"m17","t":79.75,"v":0.14},{"m":"m17","t":80.5,"v":0.1},{"m":"m17","t":82,"v":0.11},{"m":"m17","t":84,"v":0.1},{"m":"m17","t":87,"v":0.1},{"m":"m17","t":90,"v":0.11},{"m":"m17","t":94.6,"v":0.1},
{"m":"m18","t":55.3,"v":0.1},{"m":"m18","t":56,"v":0.12},{"m":"m18","t":57,"v":0.15},{"m":"m18","t":58,"v":0.13},{"m":"m18","t":59,"v":0.12},{"m":"m18","t":60,"v":0.1},{"m":"m18","t":62,"v":0.1},{"m":"m18","t":64,"v":0.1},{"m":"m18","t":66,"v":0.1},{"m":"m18","t":68,"v":0.08},{"m":"m18","t":70,"v":0.08},{"m":"m18","t":72,"v":0.08},{"m":"m18","t":73,"v":0.08},{"m":"m18","t":74,"v":0.09},{"m":"m18","t":76,"v":0.1},{"m":"m18","t":77,"v":0.13},{"m":"m18","t":78,"v":0.16},{"m":"m18","t":78.5,"v":0.15},{"m":"m18","t":79,"v":0.12},{"m":"m18","t":80,"v":0.09},{"m":"m18","t":82,"v":0.09},{"m":"m18","t":84,"v":0.08},{"m":"m18","t":87,"v":0.09},{"m":"m18","t":90,"v":0.08},{"m":"m18","t":94.6,"v":0.09},
{"m":"m19","t":55.3,"v":0.35},{"m":"m19","t":56,"v":0.45},{"m":"m19","t":57,"v":0.5},{"m":"m19","t":58,"v":0.45},{"m":"m19","t":59,"v":0.4},{"m":"m19","t":60,"v":0.4},{"m":"m19","t":62,"v":0.38},{"m":"m19","t":64,"v":0.4},{"m":"m19","t":66,"v":0.35},{"m":"m19","t":68,"v":0.35},{"m":"m19","t":70,"v":0.38},{"m":"m19","t":72,"v":0.4},{"m":"m19","t":73,"v":0.46},{"m":"m19","t":73.5,"v":0.48},{"m":"m19","t":74,"v":0.55},{"m":"m19","t":74.5,"v":0.68},{"m":"m19","t":75,"v":0.89},{"m":"m19","t":75.5,"v":1.06},{"m":"m19","t":76,"v":1.1},{"m":"m19","t":76.5,"v":0.93},{"m":"m19","t":77,"v":0.63},{"m":"m19","t":77.5,"v":0.39},{"m":"m19","t":78,"v":0.25},{"m":"m19","t":78.5,"v":0.19},{"m":"m19","t":79,"v":0.18},{"m":"m19","t":82,"v":0.19},{"m":"m19","t":84,"v":0.17},{"m":"m19","t":87,"v":0.18},{"m":"m19","t":90,"v":0.19},{"m":"m19","t":94.6,"v":0.18},
{"m":"m20","t":55.3,"v":0.5},{"m":"m20","t":56,"v":0.65},{"m":"m20","t":57,"v":0.7},{"m":"m20","t":58,"v":0.6},{"m":"m20","t":59,"v":0.55},{"m":"m20","t":60,"v":0.55},{"m":"m20","t":62,"v":0.6},{"m":"m20","t":64,"v":0.55},{"m":"m20","t":66,"v":0.52},{"m":"m20","t":68,"v":0.55},{"m":"m20","t":70,"v":0.58},{"m":"m20","t":72,"v":0.6},{"m":"m20","t":73,"v":0.6},{"m":"m20","t":73.75,"v":0.62},{"m":"m20","t":74.25,"v":0.67},{"m":"m20","t":74.75,"v":0.83},{"m":"m20","t":75.25,"v":1.15},{"m":"m20","t":75.75,"v":1.62},{"m":"m20","t":76.25,"v":2.05},{"m":"m20","t":76.75,"v":2.2},{"m":"m20","t":77.25,"v":1.85},{"m":"m20","t":77.75,"v":1.19},{"m":"m20","t":78.25,"v":0.65},{"m":"m20","t":78.75,"v":0.38},{"m":"m20","t":79.25,"v":0.28},{"m":"m20","t":79.75,"v":0.26},{"m":"m20","t":82,"v":0.27},{"m":"m20","t":84,"v":0.25},{"m":"m20","t":87,"v":0.26},{"m":"m20","t":90,"v":0.27},{"m":"m20","t":94.6,"v":0.26}
],
"meltLab": [
{"l":"B","t":56.26,"v":8.29},
{"l":"p1","t":77.04,"v":8.15},{"l":"p1","t":77.4,"v":7.8},{"l":"p1","t":77.5,"v":6.64},{"l":"p1","t":77.9,"v":6.3},
{"l":"p2","t":77.4,"v":5.44},{"l":"p2","t":78.0,"v":5.17},{"l":"p2","t":77.0,"v":4.97},{"l":"p2","t":76.5,"v":4.3},
{"l":"p3","t":78.1,"v":4.77},{"l":"p3","t":78.1,"v":4.3},{"l":"p3","t":78.2,"v":3.93},{"l":"p3","t":78.6,"v":3.7},
{"l":"p5","t":76.9,"v":1.64},{"l":"p4","t":78.2,"v":1.17},{"l":"p4","t":79.05,"v":0.77},{"l":"p4","t":76.8,"v":0.44},
{"l":"p5","t":77.7,"v":0.37},{"l":"p5","t":78.2,"v":0.1},{"l":"p5","t":72.4,"v":0.07},{"l":"p4","t":83.0,"v":0.67}
]
},
"vconcat": [
{
 "width": 725, "height": 325,
 "layer": [
  {"data": {"name": "amp"},
   "mark": {"type": "line", "interpolate": "monotone", "strokeWidth": 1, "clip": true},
   "encoding": {
    "x": {"field": "x", "type": "quantitative", "scale": {"domain": [1, 45.4], "nice": false, "zero": false}, "axis": {"title": "Cycle", "values": [5,10,15,20,25,30,35,40,45], "titlePadding": 0, "labelOverlap": false}},
    "y": {"field": "y", "type": "quantitative", "scale": {"domain": [0, 0.92], "nice": false}, "axis": {"title": "Norm. Fluoro.", "values": [0,0.1,0.2,0.3,0.4,0.5,0.6,0.7,0.8,0.9], "format": ".1f", "labelOverlap": false, "tickCount": 10}},
    "color": {"field": "s", "type": "nominal", "legend": null, "scale": {
      "domain": ["1a","1b","1c","1d","1e","2a","2b","2c","2d","2e","3a","3b","3c","3d","3e","n1","n2"],
      "range": ["#aaaaaa","#444444","#555555","#999999","#bbbbbb","#555555","#444444","#666666","#aaaaaa","#999999","#555555","#999999","#777777","#bbbbbb","#aaaaaa","#888888","#555555"]}}
   }},
  {"data": {"name": "ampLab"},
   "transform": [{"filter": "datum.t === 'A'"}],
   "mark": {"type": "text", "font": "Liberation Serif", "fontWeight": "bold", "fontSize": 22, "color": "#000", "align": "center", "baseline": "middle"},
   "encoding": {"x": {"field": "x", "type": "quantitative"}, "y": {"field": "y", "type": "quantitative"}, "text": {"field": "t"}}},
  {"data": {"name": "ampLab"},
   "transform": [{"filter": "datum.t !== 'A'"}],
   "mark": {"type": "text", "font": "Liberation Serif", "fontWeight": "bold", "fontSize": 20, "color": "#000", "align": "center", "baseline": "middle"},
   "encoding": {"x": {"field": "x", "type": "quantitative"}, "y": {"field": "y", "type": "quantitative"}, "text": {"field": "t"}}}
 ]
},
{
 "width": 725, "height": 264,
 "layer": [
  {"data": {"name": "melt"},
   "mark": {"type": "line", "interpolate": "monotone", "strokeWidth": 1, "clip": true},
   "encoding": {
    "x": {"field": "t", "type": "quantitative", "scale": {"domain": [55.3, 95.9], "nice": false, "zero": false}, "axis": {"title": "°C", "values": [60,65,70,75,80,85,90,95], "titlePadding": 0, "labelOverlap": false}},
    "y": {"field": "v", "type": "quantitative", "scale": {"domain": [0.07, 8.9], "nice": false, "zero": false}, "axis": {"title": "dF/dT", "values": [0.5,1,1.5,2,2.5,3,3.5,4,4.5,5,5.5,6,6.5,7,7.5,8,8.5], "format": ".1f", "labelOverlap": false, "tickCount": 17}},
    "color": {"field": "m", "type": "nominal", "legend": null, "scale": {
      "domain": ["m1","m2","m3","m4","m5","m6","m7","m8","m9","m10","m11","m12","m13","m14","m15","m16","m17","m18","m19","m20"],
      "range": ["#888888","#999999","#aaaaaa","#888888","#999999","#aaaaaa","#bbbbbb","#aaaaaa","#999999","#888888","#aaaaaa","#999999","#bbbbbb","#999999","#aaaaaa","#888888","#999999","#666666","#aaaaaa","#bbbbbb"]}}
   }},
  {"data": {"name": "meltLab"},
   "transform": [{"filter": "datum.l === 'B'"}],
   "mark": {"type": "text", "font": "Liberation Serif", "fontWeight": "bold", "fontSize": 22, "color": "#000", "align": "center", "baseline": "middle"},
   "encoding": {"x": {"field": "t", "type": "quantitative"}, "y": {"field": "v", "type": "quantitative"}, "text": {"field": "l"}}},
  {"data": {"name": "meltLab"},
   "transform": [{"filter": "datum.l !== 'B'"}],
   "mark": {"type": "text", "font": "Liberation Serif", "fontWeight": "bold", "fontSize": 15, "color": "#000", "align": "center", "baseline": "middle"},
   "encoding": {"x": {"field": "t", "type": "quantitative"}, "y": {"field": "v", "type": "quantitative"}, "text": {"field": "l"}}}
 ]
}
]
}
